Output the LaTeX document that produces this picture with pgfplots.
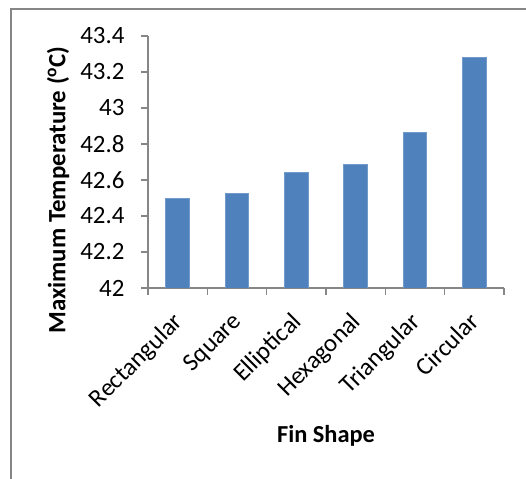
\documentclass[border=0pt]{standalone}
\usepackage{pgfplots}
\pgfplotsset{compat=1.18}
\usepackage{fontspec}
\setmainfont{Carlito}
\definecolor{barblue}{HTML}{4F81BD}
\definecolor{axgray}{HTML}{868686}
\begin{document}
\begin{tikzpicture}[x=1bp,y=1bp]
\useasboundingbox (0,0) rectangle (526,479);
\draw[axgray,line width=1.2bp] (11,-20) -- (11,470) -- (560,470);
\begin{axis}[
  at={(148bp,191bp)}, anchor=south west,
  scale only axis, width=356bp, height=252bp,
  xmin=-0.5, xmax=5.5, ymin=42, ymax=43.4,
  ytick={42,42.2,...,43.4},
  yticklabels={42,42.2,42.4,42.6,42.8,43,43.2,43.4},
  xtick={0,...,5},
  xticklabels={Rectangular,Square,Elliptical,Hexagonal,Triangular,Circular},
  minor xtick={-0.5,0.5,...,5.5},
  axis x line*=bottom, axis y line*=left,
  axis line style={axgray,line width=1.2bp,-},
  tick align=outside,
  major tick length=7bp, minor tick length=7bp,
  tick style={axgray,line width=1.2bp},
  major x tick style={draw=none},
  ticklabel style={font=\fontsize{25}{30}\selectfont, text=black},
  /pgf/number format/assume math mode=true,
  yticklabel style={xshift=-13bp},
  xticklabel style={xshift=-6bp, yshift=-11bp, rotate=45, anchor=north east},
  ybar, bar width=0.4,
]
\addplot[fill=barblue, draw=barblue!80!white, line width=0.8bp]
  coordinates {(0,42.495) (1,42.527) (2,42.643) (3,42.687) (4,42.863) (5,43.282)};
\end{axis}
\node[rotate=90, font=\fontsize{25}{30}\selectfont\bfseries] at (58,289) {Maximum Temperature (\textsuperscript{o}C)};
\node[font=\fontsize{24.5}{29}\selectfont\bfseries] at (326,43) {Fin Shape};
\end{tikzpicture}
\end{document}
